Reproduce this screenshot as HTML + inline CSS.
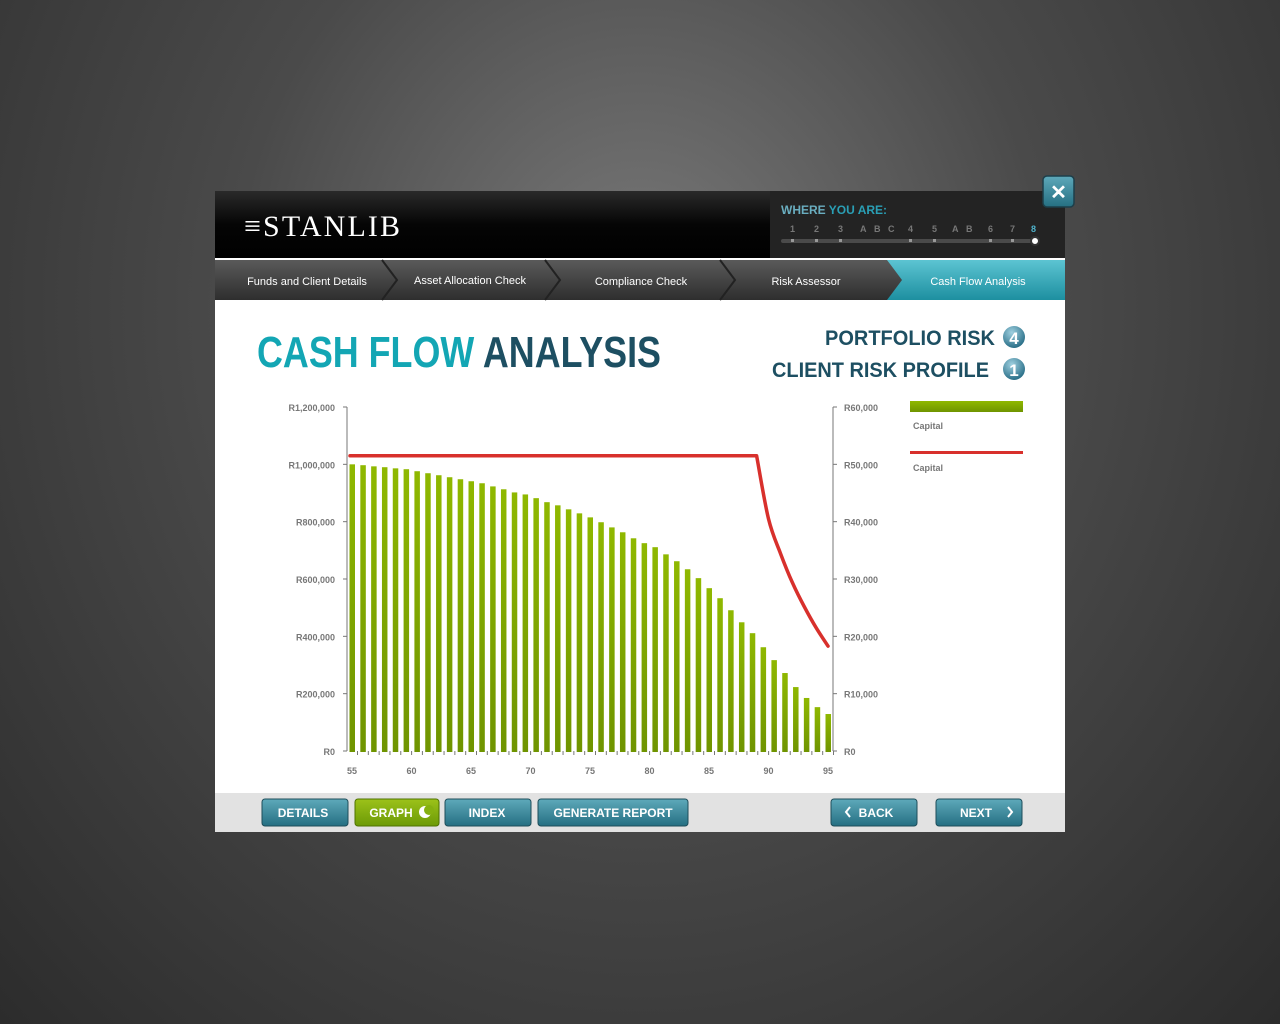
<!DOCTYPE html>
<html><head><meta charset="utf-8"><style>
html,body{margin:0;padding:0;width:1280px;height:1024px;overflow:hidden;background:radial-gradient(ellipse at 50% 30%,#7a7a7a 0%,#4a4a4a 45%,#2c2c2c 100%);font-family:"Liberation Sans",sans-serif}
svg{position:absolute;left:0;top:0}
</style></head><body>
<svg width="1280" height="1024" viewBox="0 0 1280 1024">
<defs>
<linearGradient id="hdr" x1="0" y1="0" x2="0" y2="1"><stop offset="0" stop-color="#2a2a2a"/><stop offset="0.5" stop-color="#050505"/><stop offset="1" stop-color="#000"/></linearGradient>
<linearGradient id="tab" x1="0" y1="0" x2="0" y2="1"><stop offset="0" stop-color="#5a5a5a"/><stop offset="1" stop-color="#2e2e2e"/></linearGradient>
<linearGradient id="tabA" x1="0" y1="0" x2="0" y2="1"><stop offset="0" stop-color="#5cc4d2"/><stop offset="1" stop-color="#1d8fa0"/></linearGradient>
<linearGradient id="btn" x1="0" y1="0" x2="0" y2="1"><stop offset="0" stop-color="#5ea9ba"/><stop offset="1" stop-color="#256f82"/></linearGradient>
<linearGradient id="btnG" x1="0" y1="0" x2="0" y2="1"><stop offset="0" stop-color="#9cc21a"/><stop offset="1" stop-color="#6c9a06"/></linearGradient>
<linearGradient id="bar" x1="0" y1="0" x2="0" y2="1"><stop offset="0" stop-color="#8fb800"/><stop offset="1" stop-color="#6f9400"/></linearGradient>
<radialGradient id="circ" cx="0.4" cy="0.3" r="0.7"><stop offset="0" stop-color="#9fd0e0"/><stop offset="1" stop-color="#2a6f88"/></radialGradient>
</defs>
<rect x="215" y="191" width="850" height="641" fill="#fff"/>
<rect x="215" y="191" width="555" height="67" fill="url(#hdr)"/>
<rect x="770" y="191" width="295" height="67" fill="#232323"/>
<text x="244" y="236" fill="#fff" font-family="Liberation Serif,serif" font-size="30" textLength="156">≡STANLIB</text>
<text x="781" y="214" font-size="12" font-weight="bold"><tspan fill="#6aaec0">WHERE </tspan><tspan fill="#2a9fb5">YOU ARE:</tspan></text>
<g font-size="9" font-weight="bold" fill="#777">
<text x="790" y="232">1</text><text x="814" y="232">2</text><text x="838" y="232">3</text><text x="860" y="232">A</text><text x="874" y="232">B</text><text x="888" y="232">C</text><text x="908" y="232">4</text><text x="932" y="232">5</text><text x="952" y="232">A</text><text x="966" y="232">B</text><text x="988" y="232">6</text><text x="1010" y="232">7</text><text x="1031" y="232" fill="#4fb3cc">8</text>
</g>
<rect x="781" y="239" width="258" height="4" rx="2" fill="#4a4a4a"/>
<g fill="#999"><rect x="791" y="239" width="3" height="3"/><rect x="815" y="239" width="3" height="3"/><rect x="839" y="239" width="3" height="3"/><rect x="909" y="239" width="3" height="3"/><rect x="933" y="239" width="3" height="3"/><rect x="989" y="239" width="3" height="3"/><rect x="1011" y="239" width="3" height="3"/></g>
<circle cx="1035" cy="241" r="4" fill="#fff" stroke="#333" stroke-width="2"/>
<rect x="215" y="260" width="850" height="40" fill="url(#tab)"/>
<path d="M887 260 H1065 V300 H887 L902 280 Z" fill="url(#tabA)"/>
<g stroke="#222" stroke-width="2" fill="none"><path d="M382 260 L397 280 L382 300"/><path d="M545 260 L560 280 L545 300"/><path d="M720 260 L735 280 L720 300"/></g>
<g font-size="11" fill="#fff" text-anchor="middle">
<text x="307" y="285">Funds and Client Details</text>
<text x="470" y="284">Asset Allocation Check</text>
<text x="641" y="285">Compliance Check</text>
<text x="806" y="285">Risk Assessor</text>
<text x="978" y="285">Cash Flow Analysis</text>
</g>
<rect x="1043" y="176" width="31" height="31" rx="4" fill="url(#btn)" stroke="#1d3f4a" stroke-width="1.5"/>
<text x="1058.5" y="199" font-size="20" font-weight="bold" fill="#fff" text-anchor="middle">✕</text>
<text x="257" y="367" font-size="44" font-weight="bold" textLength="404" lengthAdjust="spacingAndGlyphs"><tspan fill="#13a6b4">CASH FLOW </tspan><tspan fill="#1d4f62">ANALYSIS</tspan></text>
<text x="825" y="345" font-size="21" font-weight="bold" fill="#1d4f62" textLength="170" lengthAdjust="spacingAndGlyphs">PORTFOLIO RISK</text>
<circle cx="1014" cy="337" r="11" fill="url(#circ)"/>
<text x="1014" y="344" font-size="17" font-weight="bold" fill="#fff" text-anchor="middle">4</text>
<text x="772" y="377" font-size="21" font-weight="bold" fill="#1d4f62" textLength="217" lengthAdjust="spacingAndGlyphs">CLIENT RISK PROFILE</text>
<circle cx="1014" cy="369" r="11" fill="url(#circ)"/>
<text x="1014" y="376" font-size="17" font-weight="bold" fill="#fff" text-anchor="middle">1</text>
<g id="chart"></g>
<rect x="910" y="401" width="113" height="11" fill="url(#bar)"/>
<text x="913" y="429" font-size="9" font-weight="bold" fill="#777">Capital</text>
<rect x="910" y="451" width="113" height="3" fill="#d8302c"/>
<text x="913" y="471" font-size="9" font-weight="bold" fill="#777">Capital</text>
<rect x="215" y="793" width="850" height="39" fill="#e2e2e2"/>
<g font-size="12" font-weight="bold" fill="#fff" text-anchor="middle">
<rect x="262" y="799" width="86" height="27" rx="3" fill="url(#btn)" stroke="#1e4d5a"/><text x="303" y="817">DETAILS</text>
<rect x="355" y="799" width="84" height="27" rx="3" fill="url(#btnG)" stroke="#4f7200"/><text x="391" y="817">GRAPH</text>
<circle cx="425" cy="812" r="6" fill="#fff"/><circle cx="429" cy="810" r="5" fill="#85b010"/>
<rect x="445" y="799" width="86" height="27" rx="3" fill="url(#btn)" stroke="#1e4d5a"/><text x="487" y="817">INDEX</text>
<rect x="538" y="799" width="150" height="27" rx="3" fill="url(#btn)" stroke="#1e4d5a"/><text x="613" y="817">GENERATE REPORT</text>
<rect x="831" y="799" width="86" height="27" rx="3" fill="url(#btn)" stroke="#1e4d5a"/><text x="876" y="817">BACK</text>
<path d="M850 807 L846 812 L850 817" stroke="#fff" stroke-width="2" fill="none"/>
<rect x="936" y="799" width="86" height="27" rx="3" fill="url(#btn)" stroke="#1e4d5a"/><text x="976" y="817">NEXT</text>
<path d="M1008 807 L1012 812 L1008 817" stroke="#fff" stroke-width="2" fill="none"/>
</g>
</svg>
<script>
const barValues=[1000,997,993,990,986,983,976,969,962,955,948,941,934,923,913,902,895,882,868,857,843,829,815,798,780,763,742,725,711,686,662,634,603,568,533,491,449,411,362,317,272,223,185,153,129];
const leftTicks=[0,200000,400000,600000,800000,1000000,1200000];
const leftTickLabels=["R0","R200,000","R400,000","R600,000","R800,000","R1,000,000","R1,200,000"];
const rightTicks=[0,10000,20000,30000,40000,50000,60000];
const rightTickLabels=["R0","R10,000","R20,000","R30,000","R40,000","R50,000","R60,000"];
const xTicks=[55,60,65,70,75,80,85,90,95];
const lineAges=[55,89,90,91,92,93,94,95];
const lineValues=[51500,51500,40500,34500,29400,25200,21500,18300];

const NS="http://www.w3.org/2000/svg";
const g=document.getElementById('chart');
const Y0=751,Y1=407,XL=347,XR=833,A0=55,A1=95,AX0=352,AX1=828;
const yL=v=>Y0-(v/1200000)*(Y0-Y1);
const yR=v=>Y0-(v/60000)*(Y0-Y1);
const xA=a=>AX0+(a-A0)/(A1-A0)*(AX1-AX0);
function mk(t,attrs){const e=document.createElementNS(NS,t);for(const k in attrs)e.setAttribute(k,attrs[k]);g.appendChild(e);return e;}
let ax=mk('path',{d:`M${XL} ${Y1} V${Y0}`,stroke:'#777','stroke-width':1,fill:'none'});


ax=mk('path',{d:`M${XR} ${Y1} V${Y0}`,stroke:'#777','stroke-width':1,fill:'none'});


leftTicks.forEach((v,i)=>{
  const y=yL(v);
  mk('line',{x1:XL-4,x2:XL,y1:y,y2:y,stroke:'#777'});
  const t=mk('text',{x:335,y:y+4,'font-size':9,'font-weight':'bold',fill:'#777','text-anchor':'end'});
  t.textContent=leftTickLabels[i];
  
  
});
rightTicks.forEach((v,i)=>{
  const y=yR(v);
  mk('line',{x1:XR,x2:XR+4,y1:y,y2:y,stroke:'#777'});
  const t=mk('text',{x:844,y:y+4,'font-size':9,'font-weight':'bold',fill:'#777'});
  t.textContent=rightTickLabels[i];
  
  
});
xTicks.forEach(a=>{
  const t=mk('text',{x:xA(a),y:774,'font-size':9,'font-weight':'bold',fill:'#777','text-anchor':'middle'});
  t.textContent=a;
  
  
});
const n=barValues.length, step=(AX1-AX0)/(n-1);
for(let i=0;i<n;i++){
  const cx=AX0+i*step;
  mk('line',{x1:cx+5.5,x2:cx+5.5,y1:Y0,y2:Y0+4,stroke:'#777'});
}
barValues.forEach((v,i)=>{
  const cx=AX0+i*step, y=yL(v*1000);
  const r=mk('rect',{x:cx-2.5,y:y,width:5.5,height:Y0+1-y,fill:'url(#bar)'});
  
  
});
// line: straight flat part, Catmull-Rom smoothing for descent
const pts=lineAges.map((a,i)=>[xA(a),yR(lineValues[i])]);
let d=`M${pts[0][0]-2} ${pts[0][1]} L${pts[1][0]} ${pts[1][1]}`;
for(let i=1;i<pts.length-1;i++){
  const p0=i>1?pts[i-1]:pts[i], p1=pts[i], p2=pts[i+1], p3=pts[i+2]||p2;
  const c1=[p1[0]+(p2[0]-p0[0])/6,p1[1]+(p2[1]-p0[1])/6];
  const c2=[p2[0]-(p3[0]-p1[0])/6,p2[1]-(p3[1]-p1[1])/6];
  d+=` C${c1[0].toFixed(1)} ${c1[1].toFixed(1)} ${c2[0].toFixed(1)} ${c2[1].toFixed(1)} ${p2[0].toFixed(1)} ${p2[1].toFixed(1)}`;
}
const ln=mk('path',{d:d,stroke:'#d8302c','stroke-width':3.5,fill:'none','stroke-linejoin':'round','stroke-linecap':'round'});


</script>
</body></html>
